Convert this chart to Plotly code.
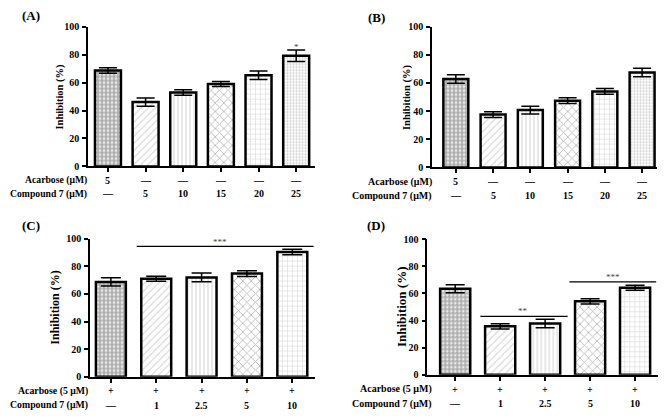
import plotly.graph_objects as go

# valeurs (moyenne et erreur standard, en %)
ab_acarbose = ["5", "—", "—", "—", "—", "—"]
ab_compound = ["—", "5", "10", "15", "20", "25"]
a_mean = [68.6, 46.0, 52.9, 58.9, 65.2, 79.2]
a_err = [2.0, 3.0, 2.0, 1.8, 3.1, 4.1]
b_mean = [62.8, 37.5, 40.7, 47.4, 54.0, 67.4]
b_err = [3.0, 2.0, 2.8, 2.0, 2.0, 3.0]

cd_acarbose = ["+", "+", "+", "+", "+"]
cd_compound = ["—", "1", "2.5", "5", "10"]
c_mean = [68.6, 71.0, 71.9, 74.7, 90.2]
c_err = [3.0, 1.8, 3.1, 2.1, 2.0]
d_mean = [63.5, 35.8, 37.9, 54.2, 64.2]
d_err = [2.9, 1.9, 3.1, 2.0, 1.8]

# la page ajoute une marge de 8 px autour du graphique
OFF = 8
W, H = 666 - OFF, 420 - OFF
FONT = "Liberation Serif"


def px(x):
    return (x - OFF) / W


def py(y):
    return 1 - (y - OFF) / H


# motifs des barres (damier, diagonales, verticales, croisillons, grille, points)
pat_shape = [".", "/", "|", "x", "+", "."]
pat_color = ["#5a5a5a", "#b5b5b5", "#bdbdbd", "#6a6a6a", "#a8a8a8", "#9a9a9a"]
pat_size = [4, 5, 4, 6, 5, 3]
pat_solid = [0.75, 0.25, 0.35, 0.25, 0.2, 0.4]

panels = [
    dict(tag="(A)", n="", mean=a_mean, err=a_err, acar=ab_acarbose, comp=ab_compound,
         acar_lbl="Acarbose (μM)", xd=(88, 315), yd=(165, 21), xr=[-0.53, 5.5], bw=0.69,
         cap=9, rows=(179, 193), lbl_x=89, lbl_size=9.7, ytitle_x=60, ytitle_size=10.5,
         tag_xy=(31, 10)),
    dict(tag="(B)", n="2", mean=b_mean, err=b_err, acar=ab_acarbose, comp=ab_compound,
         acar_lbl="Acarbose (μM)", xd=(432, 657), yd=(166, 21), xr=[-0.64, 5.4], bw=0.67,
         cap=9, rows=(181, 195), lbl_x=434, lbl_size=10, ytitle_x=407, ytitle_size=10.5,
         tag_xy=(376, 12)),
    dict(tag="(C)", n="3", mean=c_mean, err=c_err, acar=cd_acarbose, comp=cd_compound,
         acar_lbl="Acarbose (5 μM)", xd=(90, 315), yd=(381.7, 239.3), xr=[-0.46, 4.5], bw=0.66,
         cap=10, rows=(396, 411), lbl_x=90, lbl_size=9.8, ytitle_x=55, ytitle_size=12,
         tag_xy=(31, 226)),
    dict(tag="(D)", n="4", mean=d_mean, err=d_err, acar=cd_acarbose, comp=cd_compound,
         acar_lbl="Acarbose (5 μM)", xd=(427.3, 658), yd=(379.7, 240), xr=[-0.62, 4.51], bw=0.67,
         cap=9.5, rows=(394.3, 409.3), lbl_x=434, lbl_size=10, ytitle_x=401, ytitle_size=13,
         tag_xy=(376, 226)),
]

fig = go.Figure()
annotations = []

for p in panels:
    k = len(p["mean"])
    xs = list(range(k))
    xa, ya = "x" + p["n"], "y" + p["n"]
    fig.add_trace(go.Bar(
        x=xs, y=p["mean"], width=p["bw"], xaxis=xa, yaxis=ya, showlegend=False, cliponaxis=False,
        marker=dict(color="white", line=dict(color="black", width=2.5),
                    pattern=dict(shape=pat_shape[:k], fgcolor=pat_color[:k], bgcolor="white",
                                 size=pat_size[:k], solidity=pat_solid[:k])),
        error_y=dict(type="data", array=p["err"], color="black", thickness=1.5, width=p["cap"]),
    ))
    axis_x = dict(domain=[px(p["xd"][0]), px(p["xd"][1])], range=p["xr"], anchor=ya,
                  showline=True, linecolor="black", linewidth=1.5, showgrid=False, zeroline=False,
                  tickvals=xs, ticktext=[""] * k, ticks="outside", ticklen=4, tickwidth=1.5,
                  tickcolor="black")
    axis_y = dict(domain=[py(p["yd"][0]), py(p["yd"][1])], range=[0, 100], anchor=xa,
                  showline=True, linecolor="black", linewidth=1.5, showgrid=False, zeroline=False,
                  tickvals=[0, 20, 40, 60, 80, 100], ticks="outside", ticklen=4, tickwidth=1.5,
                  tickcolor="black", ticklabelstandoff=1,
                  tickfont=dict(family=FONT, size=10, color="black", weight="bold"))
    fig.update_layout(**{"xaxis" + p["n"]: axis_x, "yaxis" + p["n"]: axis_y})

    # tableau des concentrations sous l'axe
    r1, r2 = p["rows"]
    for label, yy in [(p["acar_lbl"], r1), ("Compound 7 (μM)", r2)]:
        annotations.append(dict(text=label, x=px(p["lbl_x"]), y=py(yy), xref="paper", yref="paper",
                                xanchor="right", yanchor="middle", showarrow=False,
                                font=dict(size=p["lbl_size"])))
    for i in xs:
        for txt, yy in [(p["acar"][i], r1), (p["comp"][i], r2)]:
            annotations.append(dict(text=txt, x=i, y=py(yy), xref=xa, yref="paper",
                                    xanchor="center", yanchor="middle", showarrow=False))

    annotations.append(dict(text="Inhibition (%)", textangle=-90, x=px(p["ytitle_x"]),
                            y=(py(p["yd"][0]) + py(p["yd"][1])) / 2, xref="paper", yref="paper",
                            xanchor="center", yanchor="middle", showarrow=False,
                            font=dict(size=p["ytitle_size"])))
    annotations.append(dict(text=p["tag"], x=px(p["tag_xy"][0]), y=py(p["tag_xy"][1]),
                            xref="paper", yref="paper", xanchor="center", yanchor="middle",
                            showarrow=False, font=dict(size=13)))

# significativité
star_font = dict(size=9, weight="normal", color="#444444")
annotations.append(dict(text="*", x=5, y=85.5, xref="x", yref="y", showarrow=False,
                        yanchor="middle", font=star_font))
shapes = [
    dict(type="line", xref="x3", yref="y3", x0=0.57, x1=4.47, y0=94.4, y1=94.4,
         line=dict(color="black", width=1.2)),
    dict(type="line", xref="x4", yref="y4", x0=0.56, x1=2.5, y0=43.2, y1=43.2,
         line=dict(color="black", width=1.2)),
    dict(type="line", xref="x4", yref="y4", x0=2.54, x1=4.47, y0=68.5, y1=68.5,
         line=dict(color="black", width=1.2)),
]
annotations.append(dict(text="***", x=2.4, y=97.6, xref="x3", yref="y3", showarrow=False,
                        yanchor="middle", font=star_font))
annotations.append(dict(text="**", x=1.5, y=47, xref="x4", yref="y4", showarrow=False,
                        yanchor="middle", font=star_font))
annotations.append(dict(text="***", x=3.5, y=72.2, xref="x4", yref="y4", showarrow=False,
                        yanchor="middle", font=star_font))

fig.update_layout(
    width=W, height=H, margin=dict(l=0, r=0, t=0, b=0),
    paper_bgcolor="white", plot_bgcolor="white",
    font=dict(family=FONT, size=10, color="black", weight="bold"),
    annotations=annotations, shapes=shapes,
)

fig.write_html("out.html")
